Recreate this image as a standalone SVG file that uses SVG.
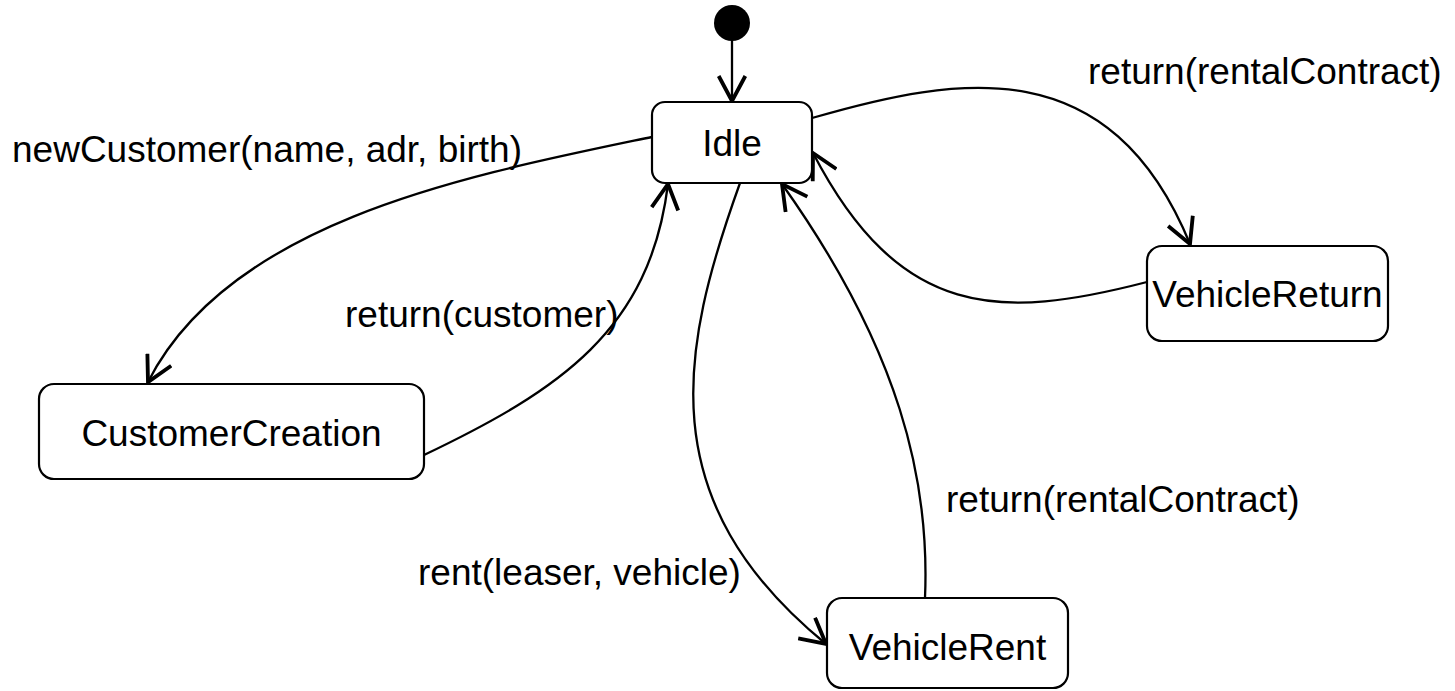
<svg xmlns="http://www.w3.org/2000/svg" width="1455" height="691" viewBox="0 0 1455 691">
<style>
.box{fill:#fff;stroke:#000;stroke-width:2.2}
.t{font-family:"Liberation Sans",Arial,sans-serif;font-size:37px;fill:#000}
.c{text-anchor:middle}
.e{fill:none;stroke:#000;stroke-width:2.3;marker-end:url(#arr)}
</style>
<defs>
<marker id="arr" markerUnits="userSpaceOnUse" markerWidth="30" markerHeight="30" refX="16" refY="9" orient="auto" viewBox="0 0 18 18">
<path d="M1,1 L16,9 L1,17" fill="none" stroke="#000" stroke-width="2.3"/>
</marker>
</defs>
<rect width="1455" height="691" fill="#fff"/>
<g id="connectors">
<path class="e" d="M732,40 L732,101"/>
<path class="e" d="M652,137 C470,175 230,220 148,382"/>
<path class="e" d="M424,455 C560,390 650,330 668,184"/>
<path class="e" d="M740,183 C680,350 650,500 826,644"/>
<path class="e" d="M925,598 C930,480 900,350 782,184"/>
<path class="e" d="M812,118 C960,75 1110,50 1190,244"/>
<path class="e" d="M1147,282 C1000,320 900,320 813,153"/>
</g>
<g id="labels">
<text class="t" x="12" y="162">newCustomer(name, adr, birth)</text>
<text class="t" x="345" y="327">return(customer)</text>
<text class="t" x="1088" y="84">return(rentalContract)</text>
<text class="t" x="418" y="585">rent(leaser, vehicle)</text>
<text class="t" x="946" y="512">return(rentalContract)</text>
</g>
<g id="initial"><circle cx="732" cy="23" r="18" fill="#000"/></g>
<g id="idle"><rect class="box" x="652" y="102" width="160" height="81" rx="13"/><text class="t c" x="732" y="156">Idle</text></g>
<g id="customerCreation"><rect class="box" x="39" y="384" width="385" height="95" rx="15"/><text class="t c" x="231.5" y="446">CustomerCreation</text></g>
<g id="vehicleReturn"><rect class="box" x="1147" y="246" width="241" height="95" rx="15"/><text class="t c" x="1267.5" y="307">VehicleReturn</text></g>
<g id="vehicleRent"><rect class="box" x="827" y="598" width="241" height="90" rx="15"/><text class="t c" x="947.5" y="660">VehicleRent</text></g>
</svg>
